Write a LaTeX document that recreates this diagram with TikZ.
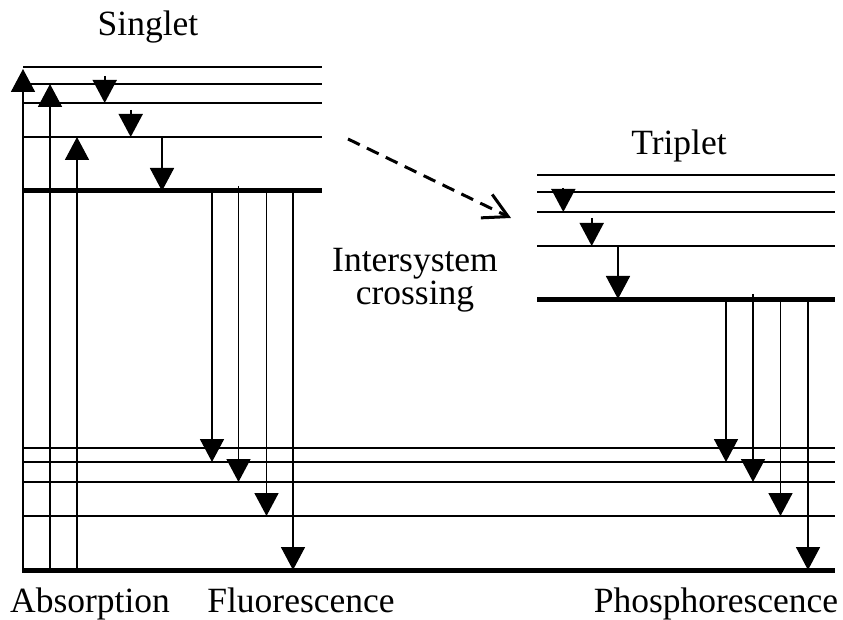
\documentclass[tikz,border=0pt]{standalone}
\usepackage{fontspec}
\setmainfont{Liberation Serif}
\usetikzlibrary{arrows.meta}
\begin{document}
\begin{tikzpicture}[x=1pt,y=-1pt,
  level/.style={line width=1.6pt},
  ground/.style={line width=5pt},
  trans/.style={line width=1.7pt,-{Triangle[width=24pt,length=23pt]}},
  isc/.style={line width=3pt,dash pattern=on 13pt off 8pt,-{Straight Barb[length=24pt,width=26pt,line width=3pt]}},
  lbl/.style={font=\fontsize{35.5}{40}\selectfont,anchor=base,inner sep=0pt}]
\useasboundingbox (0,0) rectangle (843,620);
% level anchors
\coordinate (sL) at (23,0); \coordinate (sR) at (322,0);
\coordinate (tL) at (537,0); \coordinate (tR) at (835,0);
\coordinate (s1) at (0,67); \coordinate (s2) at (0,84); \coordinate (s3) at (0,103);
\coordinate (s4) at (0,137); \coordinate (s0) at (0,191);
\coordinate (t1) at (0,175); \coordinate (t2) at (0,192); \coordinate (t3) at (0,212);
\coordinate (t4) at (0,246); \coordinate (t0) at (0,299);
\coordinate (g1) at (0,448); \coordinate (g2) at (0,462); \coordinate (g3) at (0,482);
\coordinate (g4) at (0,516); \coordinate (g0) at (0,570);
\foreach \l in {s1,s2,s3,s4} \draw[level] (sL |- \l) -- (sR |- \l);
\draw[ground] (sL |- s0) -- (sR |- s0);
\foreach \l in {t1,t2,t3,t4} \draw[level] (tL |- \l) -- (tR |- \l);
\draw[ground] (tL |- t0) -- (tR |- t0);
\foreach \l in {g1,g2,g3,g4} \draw[level] (sL |- \l) -- (tR |- \l);
\draw[ground] ([xshift=-0.8pt]sL |- g0) -- (tR |- g0);
% absorption
\coordinate (a1) at (23,0); \coordinate (a2) at (50,0); \coordinate (a3) at (77,0);
\draw[trans] (a1 |- g0) -- ([yshift=-2pt]a1 |- s1);
\draw[trans] (a2 |- g0) -- (a2 |- s2);
\draw[trans] (a3 |- g0) -- (a3 |- s4);
% singlet relaxation
\coordinate (r1) at (104.7,76); \coordinate (r2) at (130.7,110); \coordinate (r3) at (162,0);
\draw[trans] (r1) -- (r1 |- s3);
\draw[trans] (r2) -- (r2 |- s4);
\draw[trans] (r3 |- s4) -- (r3 |- s0);
% fluorescence
\coordinate (f1) at (212,0); \coordinate (f2) at (238.5,186); \coordinate (f3) at (266.5,0); \coordinate (f4) at (293,0);
\draw[trans] (f1 |- s0) -- (f1 |- g2);
\draw[trans] (f2) -- (f2 |- g3);
\draw[trans] (f3 |- s0) -- (f3 |- g4);
\draw[trans] (f4 |- s0) -- (f4 |- g0);
% triplet relaxation
\coordinate (q1) at (563.3,188); \coordinate (q2) at (591.7,218); \coordinate (q3) at (618,0);
\draw[trans] (q1) -- (q1 |- t3);
\draw[trans] (q2) -- (q2 |- t4);
\draw[trans] (q3 |- t4) -- (q3 |- t0);
% phosphorescence
\coordinate (p1) at (726,0); \coordinate (p2) at (753,294); \coordinate (p3) at (780.5,0); \coordinate (p4) at (808,0);
\draw[trans] (p1 |- t0) -- (p1 |- g2);
\draw[trans] (p2) -- (p2 |- g3);
\draw[trans] (p3 |- t0) -- (p3 |- g4);
\draw[trans] (p4 |- t0) -- (p4 |- g0);
% intersystem crossing
\coordinate (iscA) at (348,139); \coordinate (iscB) at (511,218);
\draw[isc] (iscA) -- (iscB);
% labels
\node[lbl] (singlet) at (148,36) {Singlet};
\node[lbl] (triplet) at (679,155) {Triplet};
\node[lbl] (inter) at (415,272) {Intersystem};
\node[lbl] (cross) at (415,305) {crossing};
\node[lbl] (absorp) at (90,612) {Absorption};
\node[lbl] (fluor) at (301,612) {Fluorescence};
\node[lbl] (phos) at (716,612) {Phosphorescence};
\end{tikzpicture}
\end{document}
